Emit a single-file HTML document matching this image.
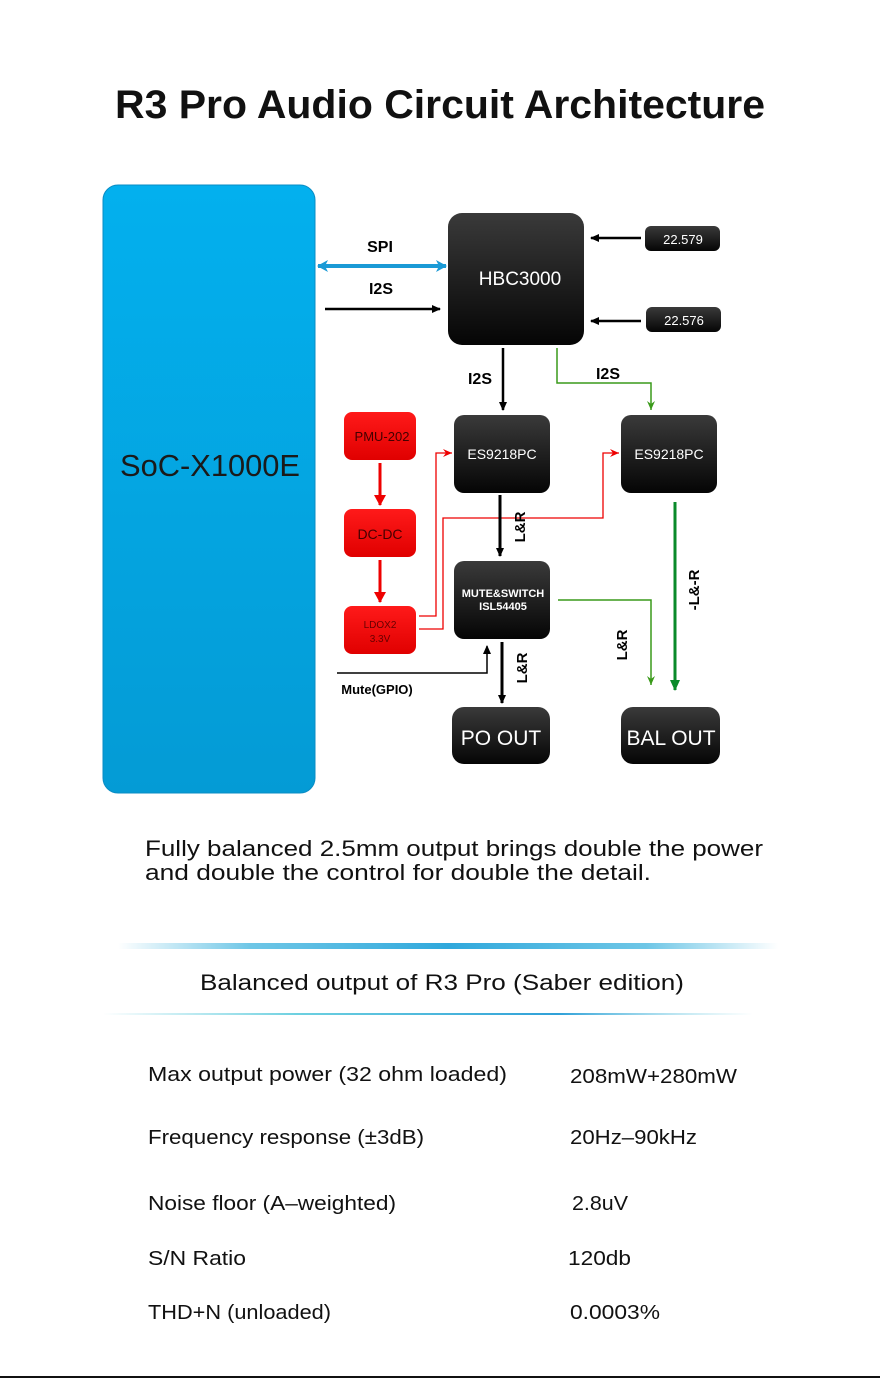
<!DOCTYPE html>
<html><head><meta charset="utf-8"><style>
html,body{margin:0;padding:0;background:#fff;}
svg{display:block;}
text{font-family:"Liberation Sans",sans-serif;}
</style></head><body>
<svg width="880" height="1378" viewBox="0 0 880 1378" xmlns="http://www.w3.org/2000/svg">
<defs>
<linearGradient id="soc" x1="0" y1="0" x2="0" y2="1"><stop offset="0" stop-color="#03b0ee"/><stop offset="1" stop-color="#049bd5"/></linearGradient>
<linearGradient id="blk" x1="0" y1="0" x2="0" y2="1"><stop offset="0" stop-color="#3a3a3a"/><stop offset="1" stop-color="#050505"/></linearGradient>
<linearGradient id="red" x1="0" y1="0" x2="0" y2="1"><stop offset="0" stop-color="#ff1a1a"/><stop offset="1" stop-color="#e00000"/></linearGradient>
<linearGradient id="l1" x1="0" y1="0" x2="1" y2="0"><stop offset="0" stop-color="#4ab8e0" stop-opacity="0"/><stop offset="0.2" stop-color="#4ab8e0" stop-opacity="0.8"/><stop offset="0.5" stop-color="#2fa8dc"/><stop offset="0.8" stop-color="#4ab8e0" stop-opacity="0.8"/><stop offset="1" stop-color="#4ab8e0" stop-opacity="0"/></linearGradient>
<linearGradient id="l2" x1="0" y1="0" x2="1" y2="0"><stop offset="0" stop-color="#6cd0e0" stop-opacity="0"/><stop offset="0.3" stop-color="#6cd0e0"/><stop offset="0.7" stop-color="#2fa0d8"/><stop offset="1" stop-color="#6cd0e0" stop-opacity="0"/></linearGradient>
<marker id="ab" markerWidth="10" markerHeight="10" refX="8" refY="5" orient="auto" markerUnits="userSpaceOnUse"><path d="M0,1 L9,5 L0,9 Z" fill="#000"/></marker>
<marker id="ar" markerWidth="12" markerHeight="12" refX="10" refY="6" orient="auto" markerUnits="userSpaceOnUse"><path d="M0,0 L11,6 L0,12 Z" fill="#e00"/></marker>
<marker id="arr" markerWidth="10" markerHeight="10" refX="9" refY="5" orient="auto" markerUnits="userSpaceOnUse"><path d="M0,1 L9,5 L0,9 L3,5 Z" fill="#e00"/></marker>
<marker id="ag" markerWidth="10" markerHeight="10" refX="9" refY="5" orient="auto" markerUnits="userSpaceOnUse"><path d="M0,1 L9,5 L0,9 L3,5 Z" fill="#3a9a1a"/></marker>
<marker id="agg" markerWidth="12" markerHeight="12" refX="10" refY="6" orient="auto" markerUnits="userSpaceOnUse"><path d="M0,1 L11,6 L0,11 Z" fill="#0a8a2a"/></marker>
<marker id="abl" markerWidth="12" markerHeight="12" refX="10" refY="6" orient="auto-start-reverse" markerUnits="userSpaceOnUse"><path d="M0,0 L11,6 L0,12 L3,6 Z" fill="#1a9ad6"/></marker>
</defs>

<text x="440" y="118" text-anchor="middle" font-size="40" font-weight="bold" fill="#111" textLength="650" lengthAdjust="spacingAndGlyphs">R3 Pro Audio Circuit Architecture</text>

<rect x="103" y="185" width="212" height="608" rx="15" fill="url(#soc)" stroke="#0a8cc4" stroke-width="1"/>
<text x="210" y="476" text-anchor="middle" font-size="31" fill="#1a1a1a" textLength="180" lengthAdjust="spacingAndGlyphs">SoC-X1000E</text>

<line x1="318" y1="266" x2="446" y2="266" stroke="#1a9ad6" stroke-width="4" marker-start="url(#abl)" marker-end="url(#abl)"/>
<text x="380" y="252" text-anchor="middle" font-size="16" font-weight="bold">SPI</text>
<text x="381" y="294" text-anchor="middle" font-size="16" font-weight="bold">I2S</text>
<line x1="325" y1="309" x2="440" y2="309" stroke="#000" stroke-width="2.5" marker-end="url(#ab)"/>

<rect x="448" y="213" width="136" height="132" rx="14" fill="url(#blk)"/>
<text x="520" y="285" text-anchor="middle" font-size="19" fill="#fff">HBC3000</text>

<rect x="645" y="226" width="75" height="25" rx="6" fill="url(#blk)"/>
<text x="683" y="244" text-anchor="middle" font-size="13" fill="#fff">22.579</text>
<line x1="641" y1="238" x2="591" y2="238" stroke="#000" stroke-width="2.5" marker-end="url(#ab)"/>
<rect x="646" y="307" width="75" height="25" rx="6" fill="url(#blk)"/>
<text x="684" y="325" text-anchor="middle" font-size="13" fill="#fff">22.576</text>
<line x1="641" y1="321" x2="591" y2="321" stroke="#000" stroke-width="2.5" marker-end="url(#ab)"/>

<line x1="503" y1="348" x2="503" y2="410" stroke="#000" stroke-width="2.5" marker-end="url(#ab)"/>
<text x="480" y="384" text-anchor="middle" font-size="16" font-weight="bold">I2S</text>
<polyline points="557,348 557,383 651,383 651,410" fill="none" stroke="#3a9a1a" stroke-width="1.5" marker-end="url(#ag)"/>
<text x="608" y="379" text-anchor="middle" font-size="16" font-weight="bold">I2S</text>

<rect x="454" y="415" width="96" height="78" rx="10" fill="url(#blk)"/>
<text x="502" y="459" text-anchor="middle" font-size="14" fill="#fff">ES9218PC</text>
<rect x="621" y="415" width="96" height="78" rx="10" fill="url(#blk)"/>
<text x="669" y="459" text-anchor="middle" font-size="14" fill="#fff">ES9218PC</text>

<rect x="344" y="412" width="72" height="48" rx="8" fill="url(#red)"/>
<text x="382" y="441" text-anchor="middle" font-size="13" fill="#400">PMU-202</text>
<rect x="344" y="509" width="72" height="48" rx="8" fill="url(#red)"/>
<text x="380" y="539" text-anchor="middle" font-size="14" fill="#400">DC-DC</text>
<rect x="344" y="606" width="72" height="48" rx="8" fill="url(#red)"/>
<text x="380" y="628" text-anchor="middle" font-size="10" fill="#600">LDOX2</text>
<text x="380" y="642" text-anchor="middle" font-size="10" fill="#600">3.3V</text>
<line x1="380" y1="463" x2="380" y2="505" stroke="#e00" stroke-width="3" marker-end="url(#ar)"/>
<line x1="380" y1="560" x2="380" y2="602" stroke="#e00" stroke-width="3" marker-end="url(#ar)"/>
<polyline points="419,616 436,616 436,453 452,453" fill="none" stroke="#e00" stroke-width="1.3" marker-end="url(#arr)"/>
<polyline points="419,629 443,629 443,518 603,518 603,453 619,453" fill="none" stroke="#e00" stroke-width="1.3" marker-end="url(#arr)"/>

<line x1="500" y1="495" x2="500" y2="556" stroke="#000" stroke-width="3" marker-end="url(#ab)"/>
<text transform="translate(525,527) rotate(-90)" text-anchor="middle" font-size="15" font-weight="bold">L&amp;R</text>

<rect x="454" y="561" width="96" height="78" rx="10" fill="url(#blk)"/>
<text x="503" y="597" text-anchor="middle" font-size="11" font-weight="bold" fill="#fff">MUTE&amp;SWITCH</text>
<text x="503" y="610" text-anchor="middle" font-size="11" font-weight="bold" fill="#fff">ISL54405</text>

<polyline points="337,673 487,673 487,646" fill="none" stroke="#000" stroke-width="1.5" marker-end="url(#ab)"/>
<text x="377" y="694" text-anchor="middle" font-size="13" font-weight="bold">Mute(GPIO)</text>

<line x1="502" y1="642" x2="502" y2="703" stroke="#000" stroke-width="3" marker-end="url(#ab)"/>
<text transform="translate(527,668) rotate(-90)" text-anchor="middle" font-size="15" font-weight="bold">L&amp;R</text>

<rect x="452" y="707" width="98" height="57" rx="12" fill="url(#blk)"/>
<text x="501" y="745" text-anchor="middle" font-size="21" fill="#fff">PO OUT</text>
<rect x="621" y="707" width="99" height="57" rx="12" fill="url(#blk)"/>
<text x="671" y="745" text-anchor="middle" font-size="21" fill="#fff">BAL OUT</text>

<polyline points="558,600 651,600 651,685" fill="none" stroke="#3a9a1a" stroke-width="1.5" marker-end="url(#ag)"/>
<text transform="translate(627,645) rotate(-90)" text-anchor="middle" font-size="15" font-weight="bold">L&amp;R</text>
<line x1="675" y1="502" x2="675" y2="690" stroke="#0a8a2a" stroke-width="3" marker-end="url(#agg)"/>
<text transform="translate(699,590) rotate(-90)" text-anchor="middle" font-size="15" font-weight="bold">-L&amp;-R</text>

<text x="145" y="856" font-size="22" fill="#111" textLength="618" lengthAdjust="spacingAndGlyphs">Fully balanced 2.5mm output brings double the power</text>
<text x="145" y="880" font-size="22" fill="#111" textLength="506" lengthAdjust="spacingAndGlyphs">and double the control for double the detail.</text>

<rect x="118" y="943" width="660" height="6" fill="url(#l1)"/>
<text x="442" y="990" text-anchor="middle" font-size="22" fill="#111" textLength="484" lengthAdjust="spacingAndGlyphs">Balanced output of R3 Pro (Saber edition)</text>
<rect x="103" y="1013" width="650" height="2" fill="url(#l2)"/>

<g font-size="20" fill="#111">
<text x="148" y="1081" textLength="359" lengthAdjust="spacingAndGlyphs">Max output power (32 ohm loaded)</text>
<text x="570" y="1083" textLength="167" lengthAdjust="spacingAndGlyphs">208mW+280mW</text>
<text x="148" y="1144" textLength="276" lengthAdjust="spacingAndGlyphs">Frequency response (±3dB)</text>
<text x="570" y="1144" textLength="127" lengthAdjust="spacingAndGlyphs">20Hz–90kHz</text>
<text x="148" y="1210" textLength="248" lengthAdjust="spacingAndGlyphs">Noise floor (A–weighted)</text>
<text x="572" y="1210" textLength="56" lengthAdjust="spacingAndGlyphs">2.8uV</text>
<text x="148" y="1265" textLength="98" lengthAdjust="spacingAndGlyphs">S/N Ratio</text>
<text x="568" y="1265" textLength="63" lengthAdjust="spacingAndGlyphs">120db</text>
<text x="148" y="1319" textLength="183" lengthAdjust="spacingAndGlyphs">THD+N (unloaded)</text>
<text x="570" y="1319" textLength="90" lengthAdjust="spacingAndGlyphs">0.0003%</text>
</g>
<rect x="0" y="1376" width="880" height="2" fill="#111"/>
</svg>
</body></html>
